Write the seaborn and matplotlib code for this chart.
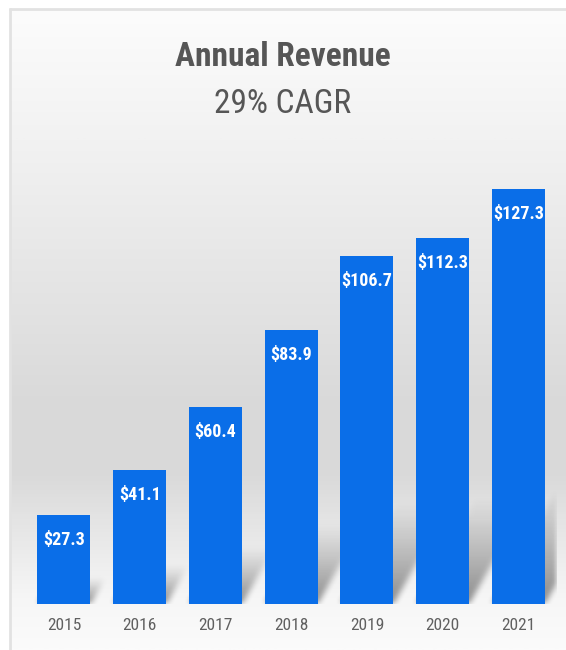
import numpy as np
import pandas as pd
import matplotlib
matplotlib.use("Agg")
import matplotlib.pyplot as plt
from matplotlib.colors import LinearSegmentedColormap
import seaborn as sns

# Revenue by fiscal year ($ millions)
years = ["2015", "2016", "2017", "2018", "2019", "2020", "2021"]
revenue = [27.3, 41.1, 60.4, 83.9, 106.7, 112.3, 127.3]
title = "Annual Revenue"
subtitle = "29% CAGR"

BAR_COLOR = "#0A6EE8"
TEXT_GRAY = "#565656"

sns.set_theme(style="white")
FONT = ["Roboto Condensed", "DejaVu Sans"]
plt.rcParams["font.family"] = FONT
plt.rcParams["font.stretch"] = "condensed"

W, H = 566, 650
fig = plt.figure(figsize=(W / 100, H / 100), dpi=100)
fig.patch.set_facecolor("white")

# Backdrop: soft vertical gradient panel with a thin frame on top and left
bg = fig.add_axes([0, 0, 1, 1], zorder=0)
bg.set_xlim(0, W)
bg.set_ylim(H, 0)
bg.axis("off")
stops = [(0.00, "#fcfcfc"), (0.22, "#f1f1f1"), (0.46, "#e3e3e3"),
         (0.62, "#d9d9d9"), (0.73, "#dadada"), (0.84, "#eaeaea"),
         (0.92, "#f6f6f6"), (1.00, "#fbfbfb")]
grad_cmap = LinearSegmentedColormap.from_list("backdrop", stops)
grad = np.linspace(0, 1, 400).reshape(-1, 1)
bg.imshow(grad, cmap=grad_cmap, aspect="auto", extent=(10, W, H, 9),
          interpolation="bilinear")
bg.plot([9, W], [8.5, 8.5], color="#e2e2e2", lw=2.0, solid_capstyle="butt")
bg.plot([9.5, 9.5], [8, H], color="#e2e2e2", lw=2.0, solid_capstyle="butt")

# Chart area
ax = fig.add_axes([0.0461, 0.0708, 0.9368, 0.7022], zorder=1)
ax.patch.set_alpha(0)
XLIM, YLIM = (-0.5, 6.5), (0, 140)

df = pd.DataFrame({"year": years, "revenue": revenue})
sns.barplot(data=df, x="year", y="revenue", color=BAR_COLOR, saturation=1,
            width=0.7, ax=ax, zorder=3, linewidth=0)


def box_blur(a, k, axis):
    kern = np.ones(k) / k
    return np.apply_along_axis(lambda r: np.convolve(r, kern, mode="same"), axis, a)


# Soft diagonal shadows cast up and to the right of each bar's base
half = 0.35
xs = np.linspace(*XLIM, 530)
ys = np.linspace(*YLIM, 456)
X, Y = np.meshgrid(xs, ys)
alpha = np.zeros_like(X)
for i, v in enumerate(revenue):
    length = 0.29 * v
    slope = 0.0244
    inside = ((Y <= length) & (X >= i - half + slope * Y) &
              (X <= i + half + slope * Y))
    a = np.where(inside, 0.44 * np.clip(1 - Y / length, 0, 1) ** 1.1, 0)
    alpha = np.maximum(alpha, a)
for _ in range(2):
    alpha = box_blur(alpha, 7, 0)
    alpha = box_blur(alpha, 7, 1)
shadow = np.zeros(X.shape + (4,))
shadow[..., 3] = alpha
ax.imshow(shadow, origin="lower", extent=(*XLIM, *YLIM), aspect="auto",
          interpolation="bilinear", zorder=2)

# Value labels inside the top of each bar
for i, v in enumerate(revenue):
    ax.annotate(f"${v:.1f}", xy=(i, v), xytext=(0, -18), textcoords="offset points",
                ha="center", va="center", color="white", fontsize=13,
                fontweight="bold", zorder=4)

ax.set_xlim(*XLIM)
ax.set_ylim(*YLIM)
ax.set_xlabel("")
ax.set_ylabel("")
ax.set_yticks([])
ax.tick_params(axis="x", length=0, pad=10, labelsize=12.5, labelcolor="#606060")
sns.despine(ax=ax, left=True, bottom=True)

fig.text(0.5, 1 - 57 / H, title, ha="center", va="center", fontsize=24,
         fontweight="bold", color=TEXT_GRAY)
fig.text(0.5, 1 - 104 / H, subtitle, ha="center", va="center", fontsize=24,
         color=TEXT_GRAY)

fig.savefig("out.png", dpi=100)
